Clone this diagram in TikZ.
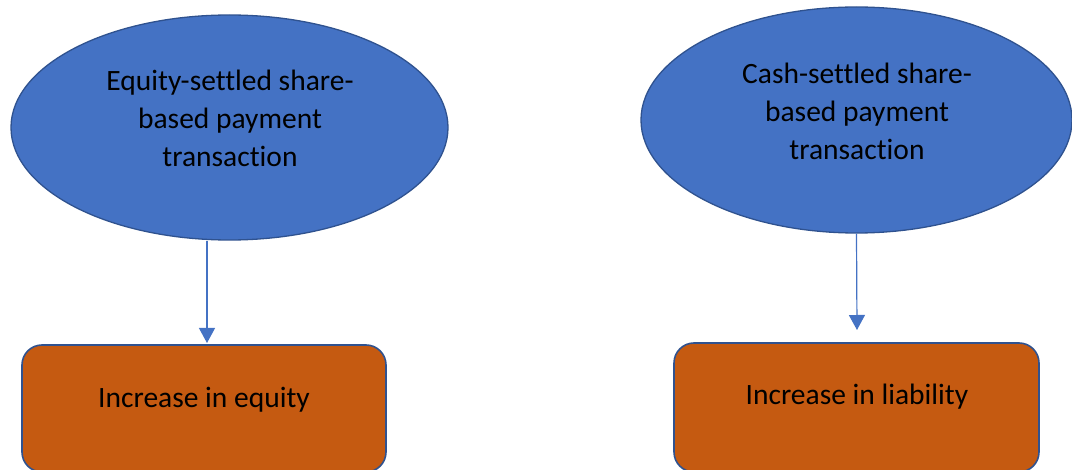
\documentclass[tikz,border=0pt]{standalone}
\usepackage{fontspec}
\setmainfont[Ligatures=NoCommon]{Carlito}
\usetikzlibrary{shapes.geometric,arrows.meta}
\definecolor{ellfill}{HTML}{4472C4}
\definecolor{edge}{HTML}{2F528F}
\definecolor{boxfill}{HTML}{C55A11}
\tikzset{
  oval/.style={ellipse, draw=edge, fill=ellfill, line width=1.3pt, inner sep=0pt},
  resbox/.style={rectangle, rounded corners=20pt, draw=edge, fill=boxfill, line width=1.6pt, inner sep=0pt},
  txt/.style={align=center, font=\fontsize{29.5}{38}\selectfont, text=black},
  flow/.style={draw=ellfill, line width=1.2pt, -{Triangle[length=15pt,width=16pt]}}
}
\begin{document}
\begin{tikzpicture}[x=1pt,y=-1pt]
\useasboundingbox (0,0) rectangle (1072,470);
\clip (0,0) rectangle (1072,470);
\node[oval, minimum width=437pt, minimum height=225pt] (e1) at (229.5,127.5) {};
\node[txt] (t1) at (230,118) {Equity-settled share-\\based payment\\transaction};
\node[oval, minimum width=431pt, minimum height=226pt] (e2) at (856.5,120) {};
\node[txt] (t2) at (857,111) {Cash-settled share-\\based payment\\transaction};
\node[resbox, minimum width=364pt, minimum height=127pt] (b1) at (204,408.5) {};
\node[txt] (l1) at (204,400) {Increase in equity};
\node[resbox, minimum width=365pt, minimum height=129pt] (b2) at (856.5,407.5) {};
\node[txt] (l2) at (857,397) {Increase in liability};
\coordinate (a1) at (207,343);
\coordinate (a2) at (857,330);
\draw[flow] (e1.south -| a1) -- (a1);
\draw[flow] (e2.south) -- (a2);
\end{tikzpicture}
\end{document}
